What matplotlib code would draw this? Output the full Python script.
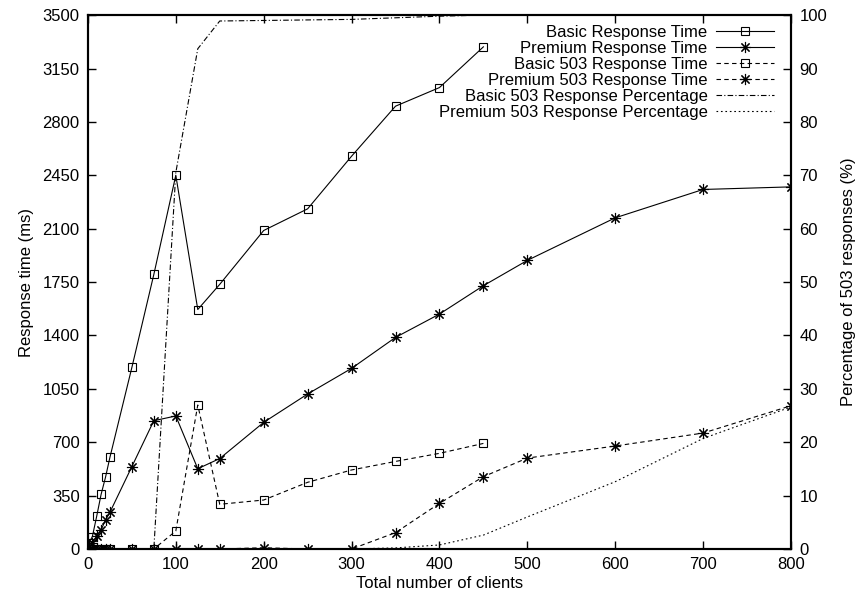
import matplotlib
matplotlib.use("Agg")
import matplotlib.pyplot as plt

plt.rcParams['font.family'] = ['Liberation Sans', 'DejaVu Sans']
plt.rcParams['font.size'] = 12

### data
clients_basic = [1, 5, 10, 15, 20, 25, 50, 75, 100, 125, 150, 200, 250, 300, 350, 400, 450]
clients_premium = [1, 5, 10, 15, 20, 25, 50, 75, 100, 125, 150, 200, 250, 300, 350, 400, 450,
                   500, 600, 700, 800]

basic_rt = [40, 80, 215, 358, 470, 600, 1190, 1800, 2450, 1570, 1735, 2088, 2230, 2575,
            2903, 3025, 3292]
premium_rt = [10, 40, 85, 125, 190, 240, 540, 841, 872, 526, 593, 830, 1016, 1184, 1387,
              1540, 1726, 1892, 2171, 2357, 2374]
basic_503_rt = [0, 0, 0, 0, 0, 0, 0, 0, 118, 944, 293, 321, 437, 518, 574, 627, 692]
premium_503_rt = [0, 0, 0, 0, 0, 0, 0, 0, 0, 0, 0, 8, 0, 0, 107, 299, 474, 596, 675, 760, 939]
basic_503_pct = [0, 0, 0, 0, 0, 0, 0, 0, 70.5, 93.7, 98.9, 99.0, 99.1, 99.2, 99.5, 99.8, 100]
premium_503_pct = [0, 0, 0, 0, 0, 0, 0, 0, 0, 0, 0, 0, 0, 0, 0.2, 0.75, 2.6, 6.0, 12.6,
                   20.7, 26.6]

rt_ticks = [0, 350, 700, 1050, 1400, 1750, 2100, 2450, 2800, 3150, 3500]
pct_ticks = [0, 10, 20, 30, 40, 50, 60, 70, 80, 90, 100]
x_ticks = [0, 100, 200, 300, 400, 500, 600, 700, 800]

star = (8, 2, 0)
lw = 0.8

fig = plt.figure(figsize=(8.62, 6.05), dpi=100)
ax = fig.add_axes([0.102, 0.0926, 0.8156, 0.8824])
ax2 = ax.twinx()

l1, = ax.plot(clients_basic, basic_rt, 'k-', lw=lw, marker='s', ms=6, mfc='none', mew=0.8,
              label="Basic Response Time")
l2, = ax.plot(clients_premium, premium_rt, 'k-', lw=lw, marker=star, ms=8, mew=0.8,
              label="Premium Response Time")
l3, = ax.plot(clients_basic, basic_503_rt, 'k', ls=(0, (4, 3)), lw=lw, marker='s', ms=6,
              mfc='none', mew=0.8, label="Basic 503 Response Time")
l4, = ax.plot(clients_premium, premium_503_rt, 'k', ls=(0, (4, 3)), lw=lw, marker=star, ms=8,
              mew=0.8, label="Premium 503 Response Time")
l5, = ax2.plot(clients_basic, basic_503_pct, 'k', ls=(0, (5, 2, 1, 2)), lw=lw,
               label="Basic 503 Response Percentage")
l6, = ax2.plot(clients_premium, premium_503_pct, 'k', ls=(0, (1.5, 2.5)), lw=lw,
               label="Premium 503 Response Percentage")

ax.set_xlim(0, 800)
ax.set_ylim(0, 3500)
ax2.set_ylim(0, 100)
ax.set_xticks(x_ticks)
ax.set_yticks(rt_ticks)
ax2.set_yticks(pct_ticks)

ax.tick_params(direction='in', length=5.5, width=1, top=True, right=False, pad=6)
ax2.tick_params(direction='in', length=5.5, width=1, pad=6)
for a in (ax, ax2):
    for s in a.spines.values():
        s.set_linewidth(1.5)

ax.set_xlabel("Total number of clients", labelpad=3)
ax.set_ylabel("Response time (ms)", labelpad=6)
ax2.set_ylabel("Percentage of 503 responses (%)", labelpad=10)

# markerfirst=False right-aligns the rows, gnuplot style
ax2.legend(handles=[l1, l2, l3, l4, l5, l6], loc='upper right', frameon=False,
           markerfirst=False, numpoints=1, handlelength=3.5, labelspacing=0.06,
           borderaxespad=0.1, handletextpad=0.5, bbox_to_anchor=(0.988, 0.997))

fig.savefig("out.png", dpi=100)
